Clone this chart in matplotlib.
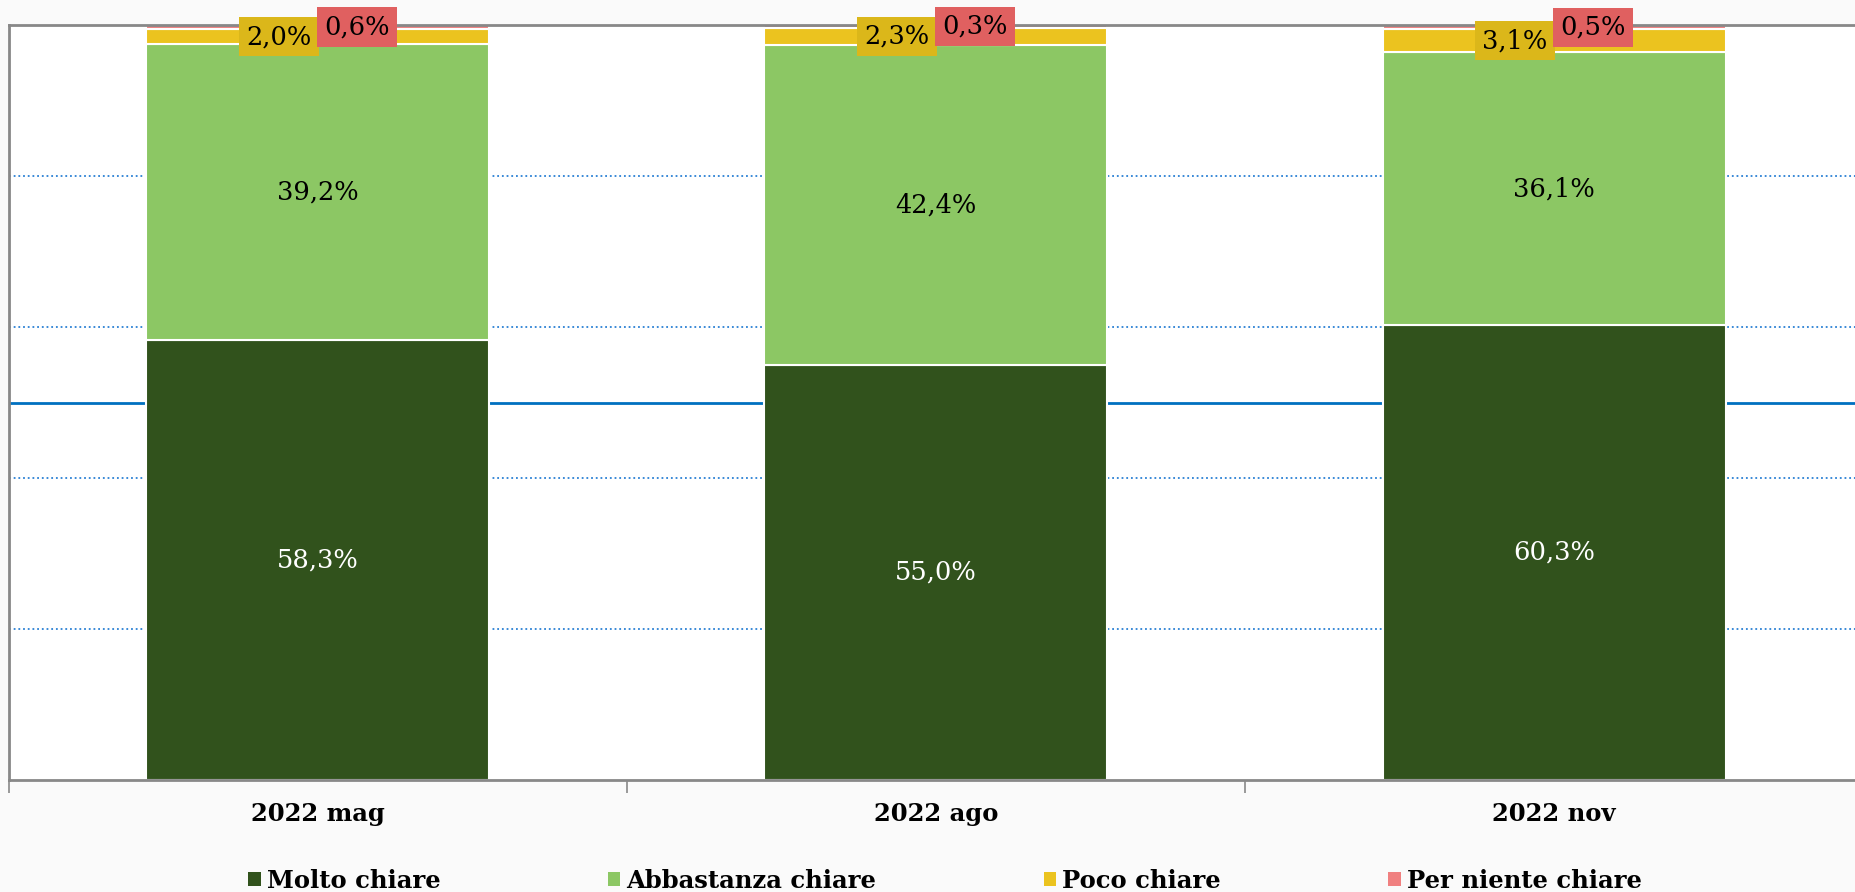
import numpy as np
import matplotlib.pyplot as plt
from matplotlib.patches import Patch

periods = ['2022 mag', '2022 ago', '2022 nov']
series = ['Molto chiare', 'Abbastanza chiare', 'Poco chiare', 'Per niente chiare']
molto = [58.3, 55.0, 60.3]
abbastanza = [39.2, 42.4, 36.1]
poco = [2.0, 2.3, 3.1]
per_niente = [0.6, 0.3, 0.5]

colors = ['#31521c', '#8cc764', '#ebc31f', '#f08080']
box_colors = {2: '#dbb71a', 3: '#e06060'}
text_colors = ['white', 'black', 'black', 'black']

plt.rcParams['font.family'] = 'DejaVu Serif'

fig = plt.figure(figsize=(18.56, 8.92), dpi=100, facecolor='#fafafa')
ax = fig.add_axes([0.0048, 0.1256, 0.999, 0.846])
ax.set_facecolor('white')

x = np.arange(len(periods))
width = 0.555
values = [molto, abbastanza, poco, per_niente]
bottom = np.zeros(len(periods))

# grid lines under the bars
for g in [20, 40, 60, 80]:
    ax.axhline(g, color='#2a80d4', lw=1.3, linestyle=(0, (1, 1.6)), zorder=0)
ax.axhline(50, color='#0070c0', lw=2, zorder=0)

for i, vals in enumerate(values):
    vals = np.array(vals)
    ax.bar(x, vals, width, bottom=bottom, color=colors[i], edgecolor='white',
           linewidth=1.5, zorder=2, clip_on=False)
    mids = bottom + vals / 2
    for j in range(len(x)):
        label = f'{vals[j]:.1f}'.replace('.', ',') + '%'
        if i < 2:
            ax.text(x[j], mids[j], label, ha='center', va='center',
                    fontsize=18.5, color=text_colors[i], zorder=4)
        else:
            dx = -0.063 if i == 2 else 0.063
            ax.text(x[j] + dx, mids[j], label, ha='center', va='center',
                    fontsize=18.5, color='black', zorder=5,
                    bbox=dict(boxstyle='square,pad=0.28', fc=box_colors[i], ec='none'))
    bottom = bottom + vals

ax.set_xlim(-0.5, 2.5)
ax.set_ylim(0, 100)
ax.set_yticks([])
ax.set_xticks(x)
ax.set_xticklabels(periods, fontsize=17.5, fontweight='bold')
ax.tick_params(axis='x', length=0, pad=16)
ax.set_xticks([-0.5, 0.5, 1.5], minor=True)
ax.tick_params(axis='x', which='minor', length=9, width=1.2, color='#888888')

for side in ['left', 'top', 'bottom']:
    ax.spines[side].set_color('#888888')
    ax.spines[side].set_linewidth(2)
ax.spines['right'].set_visible(False)

handles = [Patch(facecolor=c, edgecolor='none') for c in colors]
fig.legend(handles, series, loc='center', bbox_to_anchor=(945 / 1856, 1 - 881 / 892),
           ncol=4, frameon=False, prop={'size': 17.5, 'weight': 'bold'},
           handlelength=0.5, handleheight=0.5, handletextpad=0.25, columnspacing=6.9)

fig.savefig('out.png', dpi=100, facecolor=fig.get_facecolor())
